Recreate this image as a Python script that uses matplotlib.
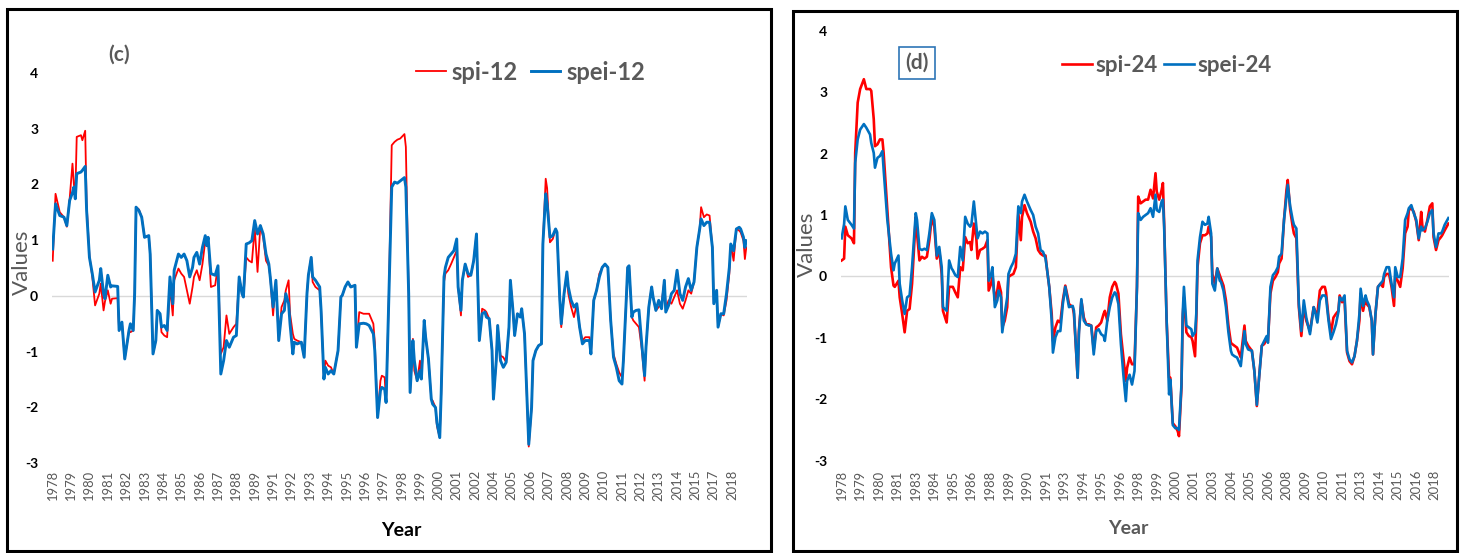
import matplotlib
matplotlib.use("Agg")
from matplotlib import pyplot as plt
from matplotlib.lines import Line2D
from matplotlib.patches import Rectangle

plt.rcParams["font.family"] = ["Lato", "DejaVu Sans"]

W, H = 1462, 553
RED = "#ff0000"
BLUE = "#0070c0"
GREY = "#595959"

# ---- panel (c): 12-month indices, monthly index since Jan 1978 ----
c_month = [
    0, 2, 5, 8, 10, 12, 14, 15, 16, 17,
    20, 21, 23, 24, 26, 28, 30, 33, 34, 36,
    37, 39, 41, 42, 46, 47, 49, 51, 54, 55,
    57, 58, 59, 61, 63, 65, 68, 69, 71, 73,
    74, 76, 77, 79, 81, 83, 85, 86, 89, 91,
    93, 95, 97, 99, 100, 102, 104, 106, 108, 109,
    110, 112, 115, 117, 119, 121, 123, 125, 128, 130,
    132, 134, 135, 137, 139, 141, 143, 145, 147, 149,
    151, 153, 154, 156, 158, 160, 162, 164, 165, 167,
    168, 170, 171, 173, 176, 178, 180, 181, 183, 184,
    186, 189, 190, 192, 193, 195, 197, 199, 202, 204,
    205, 207, 209, 211, 214, 215, 217, 220, 222, 224,
    227, 228, 230, 232, 233, 235, 236, 238, 240, 242,
    244, 246, 249, 250, 252, 253, 255, 256, 258, 260,
    261, 263, 264, 266, 268, 269, 271, 272, 274, 275,
    277, 278, 280, 282, 284, 286, 287, 289, 290, 292,
    294, 296, 298, 300, 301, 302, 304, 306, 307, 309,
    311, 312, 314, 315, 317, 319, 321, 323, 324, 326,
    327, 329, 331, 332, 334, 336, 337, 339, 340, 342,
    344, 346, 347, 349, 350, 352, 354, 356, 357, 359,
    360, 362, 364, 365, 367, 369, 371, 373, 375, 377,
    380, 381, 383, 385, 387, 389, 391, 393, 395, 397,
    399, 401, 403, 404, 406, 407, 408, 410, 411, 413,
    415, 417, 419, 420, 422, 424, 425, 427, 429, 431,
    433, 434, 436, 438, 440, 442, 444, 446, 448, 450,
    452, 454, 456, 458, 459, 461, 463, 465, 467, 468,
    470, 471, 473, 475, 477, 479, 480, 482, 484, 486,
    487, 489, 490, 491,
]
c_spei = [
    0.84, 1.65, 1.44, 1.41, 1.26, 1.71, 1.85, 1.95, 1.74, 2.19,
    2.22, 2.25, 2.32, 1.53, 0.69, 0.40, 0.07, 0.28, 0.49, 0.04,
    -0.05, 0.37, 0.16, 0.18, 0.17, -0.62, -0.47, -1.13, -0.62, -0.50,
    -0.62, 0.04, 1.59, 1.53, 1.41, 1.05, 1.08, 0.75, -1.04, -0.80,
    -0.26, -0.32, -0.56, -0.53, -0.62, 0.34, -0.14, 0.46, 0.75, 0.69,
    0.75, 0.63, 0.34, 0.51, 0.69, 0.78, 0.57, 0.87, 1.08, 0.90,
    1.05, 0.40, 0.37, 0.54, -1.40, -1.16, -0.80, -0.92, -0.74, -0.71,
    0.34, 0.04, -0.02, 0.93, 0.95, 0.99, 1.35, 1.11, 1.26, 1.11,
    0.75, 0.57, 0.34, -0.20, 0.28, -0.80, -0.32, -0.26, 0.04, -0.14,
    -0.50, -1.04, -0.83, -0.86, -0.83, -1.10, 0.04, 0.37, 0.69, 0.34,
    0.28, 0.16, -0.26, -1.49, -1.28, -1.40, -1.34, -1.40, -0.98, -0.02,
    0.01, 0.16, 0.25, 0.16, 0.19, -0.92, -0.50, -0.49, -0.50, -0.53,
    -0.68, -0.98, -2.18, -1.70, -1.64, -1.67, -1.91, 0.04, 1.95, 2.04,
    2.02, 2.06, 2.12, 1.95, 0.04, -1.73, -0.80, -1.16, -1.52, -1.34,
    -1.49, -0.44, -0.74, -1.13, -1.85, -1.94, -2.00, -2.27, -2.54, -1.76,
    0.34, 0.51, 0.69, 0.75, 0.81, 1.02, 0.16, -0.26, 0.28, 0.57,
    0.40, 0.37, 0.63, 1.11, 0.16, -0.80, -0.32, -0.29, -0.38, -0.41,
    -0.98, -1.85, -1.16, -0.53, -1.16, -1.28, -1.19, -0.56, 0.28, -0.32,
    -0.71, -0.32, -0.38, -0.23, -0.68, -2.00, -2.66, -2.00, -1.16, -0.98,
    -0.89, -0.86, 0.93, 1.83, 1.65, 1.05, 1.08, 1.20, 1.14, -0.08,
    -0.50, 0.04, 0.43, 0.16, -0.08, -0.20, -0.14, -0.56, -0.86, -0.80,
    -0.80, -1.04, -0.08, 0.10, 0.34, 0.51, 0.57, 0.51, -0.44, -1.10,
    -1.28, -1.52, -1.58, -1.16, -0.08, 0.51, 0.54, -0.38, -0.29, -0.26,
    -0.25, -0.86, -1.43, -0.92, -0.20, 0.16, -0.02, -0.26, -0.08, -0.23,
    0.28, -0.29, -0.17, 0.04, 0.10, 0.46, 0.04, -0.08, 0.16, 0.31,
    0.10, 0.25, 0.87, 1.20, 1.38, 1.26, 1.32, 1.32, 0.87, -0.14,
    0.10, -0.56, -0.32, -0.32, 0.04, 0.51, 0.93, 0.81, 1.20, 1.23,
    1.20, 1.05, 0.87, 0.99,
]
c_spi = [
    0.63, 1.83, 1.50, 1.41, 1.24, 1.74, 2.37, 2.00, 1.80, 2.85,
    2.88, 2.79, 2.96, 1.65, 0.72, 0.35, -0.17, 0.04, 0.22, -0.26,
    -0.10, 0.10, -0.14, -0.05, -0.04, -0.62, -0.47, -1.13, -0.62, -0.65,
    -0.62, 0.04, 1.59, 1.55, 1.41, 1.05, 1.08, 0.75, -1.04, -0.80,
    -0.26, -0.32, -0.65, -0.71, -0.74, 0.16, -0.35, 0.28, 0.49, 0.40,
    0.34, 0.10, -0.14, 0.16, 0.34, 0.46, 0.28, 0.57, 0.99, 0.90,
    1.05, 0.16, 0.19, 0.54, -1.04, -0.92, -0.35, -0.68, -0.56, -0.50,
    0.34, 0.04, -0.02, 0.69, 0.63, 0.60, 1.23, 0.43, 1.26, 1.05,
    0.63, 0.54, 0.34, -0.35, 0.28, -0.80, -0.20, -0.08, 0.10, 0.28,
    -0.32, -0.68, -0.77, -0.80, -0.83, -1.10, 0.04, 0.37, 0.69, 0.25,
    0.16, 0.10, -0.26, -1.49, -1.16, -1.25, -1.28, -1.40, -0.98, -0.02,
    0.01, 0.16, 0.25, 0.16, 0.19, -0.92, -0.29, -0.32, -0.32, -0.32,
    -0.50, -0.83, -2.18, -1.52, -1.43, -1.46, -1.91, 0.04, 2.70, 2.76,
    2.80, 2.82, 2.90, 2.67, 0.04, -1.73, -0.77, -1.34, -1.52, -1.16,
    -1.49, -0.44, -0.74, -1.13, -1.85, -1.88, -2.00, -2.33, -2.54, -1.76,
    0.25, 0.40, 0.46, 0.57, 0.69, 0.81, 0.16, -0.35, 0.28, 0.57,
    0.34, 0.37, 0.63, 1.11, 0.16, -0.80, -0.23, -0.26, -0.29, -0.41,
    -0.98, -1.85, -1.16, -0.53, -1.07, -1.10, -1.19, -0.56, 0.28, -0.32,
    -0.71, -0.32, -0.38, -0.23, -0.68, -2.00, -2.70, -2.00, -1.16, -0.98,
    -0.89, -0.86, 0.93, 2.10, 1.93, 0.96, 1.02, 1.20, 1.14, -0.08,
    -0.56, 0.04, 0.34, 0.04, -0.20, -0.38, -0.14, -0.56, -0.80, -0.74,
    -0.74, -1.04, -0.08, 0.10, 0.40, 0.51, 0.57, 0.51, -0.44, -1.04,
    -1.22, -1.37, -1.46, -1.16, -0.08, 0.51, 0.54, -0.38, -0.44, -0.50,
    -0.56, -0.95, -1.52, -0.92, -0.20, 0.16, -0.02, -0.26, -0.20, -0.14,
    0.28, -0.23, -0.08, -0.14, -0.02, 0.10, -0.14, -0.23, -0.08, 0.10,
    0.04, 0.25, 0.87, 1.20, 1.59, 1.41, 1.46, 1.44, 0.87, -0.14,
    0.10, -0.56, -0.32, -0.35, -0.08, 0.40, 0.93, 0.63, 1.20, 1.17,
    1.14, 0.99, 0.66, 0.87,
]
c_years = [1978, 1979, 1980, 1981, 1982, 1983, 1984, 1985, 1986, 1987,
           1988, 1989, 1991, 1992, 1993, 1994, 1995, 1996, 1997, 1998,
           1999, 2000, 2001, 2002, 2004, 2005, 2006, 2007, 2008, 2009,
           2010, 2011, 2012, 2013, 2014, 2015, 2017, 2018]

# ---- panel (d): 24-month indices ----
d_month = [
    0, 2, 3, 5, 8, 10, 11, 13, 15, 18,
    20, 23, 24, 26, 27, 29, 31, 33, 34, 37,
    40, 42, 43, 46, 47, 49, 51, 53, 55, 57,
    60, 61, 63, 65, 67, 69, 71, 73, 75, 77,
    79, 81, 82, 85, 87, 89, 90, 92, 94, 96,
    98, 100, 102, 104, 105, 107, 109, 110, 112, 114,
    116, 118, 119, 121, 122, 124, 126, 127, 129, 130,
    132, 134, 135, 137, 139, 141, 143, 145, 146, 148,
    150, 153, 155, 157, 159, 161, 163, 165, 166, 168,
    170, 171, 173, 175, 177, 179, 181, 183, 184, 187,
    188, 191, 192, 194, 196, 198, 200, 202, 204, 206,
    208, 210, 212, 213, 215, 217, 219, 221, 222, 224,
    226, 228, 230, 231, 233, 235, 237, 239, 240, 242,
    244, 246, 248, 250, 252, 254, 255, 257, 259, 260,
    261, 263, 265, 266, 268, 270, 272, 273, 275, 276,
    277, 279, 281, 283, 284, 286, 287, 288, 290, 292,
    294, 296, 297, 299, 300, 302, 304, 306, 307, 309,
    311, 313, 315, 316, 318, 320, 323, 326, 327, 329,
    332, 334, 336, 338, 340, 342, 344, 345, 347, 349,
    351, 353, 354, 356, 358, 360, 361, 363, 365, 366,
    368, 370, 372, 374, 376, 379, 382, 383, 385, 387,
    389, 391, 392, 394, 396, 398, 400, 402, 403, 405,
    407, 409, 411, 413, 415, 417, 419, 420, 422, 424,
    425, 427, 429, 430, 432, 434, 436, 438, 439, 441,
    443, 445, 447, 448, 450, 452, 454, 456, 458, 459,
    461, 463, 465, 467, 469, 470, 472, 474, 476, 478,
    479, 481, 483, 485, 486, 488, 491,
]
d_spei = [
    0.62, 0.85, 1.14, 0.92, 0.84, 0.78, 1.85, 2.23, 2.39, 2.48,
    2.42, 2.31, 2.17, 2.01, 1.77, 1.93, 1.96, 2.04, 1.74, 0.92,
    0.37, 0.10, 0.21, 0.34, -0.12, -0.39, -0.61, -0.34, -0.31, 0.15,
    1.03, 0.92, 0.45, 0.43, 0.45, 0.43, 0.70, 1.03, 0.92, 0.34,
    0.48, 0.15, -0.50, -0.56, 0.26, 0.13, 0.10, 0.02, -0.01, 0.48,
    0.26, 0.97, 0.86, 0.81, 0.84, 1.22, 0.81, 0.62, 0.73, 0.70,
    0.73, 0.70, -0.07, 0.04, 0.15, -0.50, -0.39, -0.23, -0.34, -0.91,
    -0.61, -0.34, 0.04, 0.15, 0.23, 0.37, 1.14, 1.03, 1.22, 1.33,
    1.22, 1.08, 1.00, 0.81, 0.70, 0.43, 0.40, 0.29, 0.15, -0.17,
    -0.72, -1.24, -0.99, -0.89, -0.89, -0.45, -0.17, -0.39, -0.50, -0.48,
    -0.56, -1.65, -0.94, -0.37, -0.72, -0.78, -0.80, -0.80, -1.27, -0.89,
    -0.86, -0.94, -0.97, -1.05, -0.72, -0.50, -0.34, -0.26, -0.28, -0.45,
    -1.10, -1.60, -2.03, -1.70, -1.60, -1.76, -1.54, -0.17, 1.03, 0.92,
    0.97, 1.00, 1.03, 1.11, 0.97, 1.33, 1.08, 1.05, 1.22, 1.25,
    0.81, -0.72, -1.92, -1.68, -2.42, -2.47, -2.47, -2.50, -1.76, -0.61,
    -0.17, -0.80, -0.83, -0.86, -0.97, -0.91, -0.61, 0.26, 0.64, 0.89,
    0.84, 0.86, 0.97, 0.70, -0.12, -0.23, 0.13, -0.07, -0.09, -0.23,
    -0.50, -0.91, -1.21, -1.27, -1.30, -1.32, -1.46, -0.89, -1.10, -1.19,
    -1.21, -1.54, -2.09, -1.60, -1.13, -1.05, -0.97, -1.08, -0.17, 0.02,
    0.07, 0.15, 0.32, 0.37, 0.92, 1.30, 1.49, 1.14, 0.92, 0.84,
    0.78, -0.45, -0.89, -0.39, -0.67, -0.94, -0.50, -0.56, -0.75, -0.39,
    -0.31, -0.31, -0.34, -0.72, -1.02, -0.91, -0.78, -0.58, -0.34, -0.39,
    -0.31, -1.21, -1.35, -1.40, -1.30, -1.05, -0.61, -0.20, -0.48, -0.31,
    -0.39, -0.48, -0.72, -1.27, -0.61, -0.17, -0.12, -0.07, 0.04, 0.15,
    0.15, -0.12, -0.34, 0.15, -0.01, -0.01, 0.29, 0.92, 1.03, 1.11,
    1.16, 1.03, 0.92, 0.62, 0.81, 0.75, 0.78, 0.89, 1.03, 1.08,
    0.70, 0.48, 0.70, 0.70, 0.73, 0.84, 0.95,
]
d_spi = [
    0.26, 0.29, 0.81, 0.67, 0.62, 0.54, 2.01, 2.83, 3.05, 3.21,
    3.05, 3.05, 3.02, 2.56, 2.12, 2.15, 2.23, 2.23, 2.01, 1.08,
    0.15, -0.15, -0.17, -0.07, -0.34, -0.61, -0.91, -0.56, -0.53, -0.12,
    0.97, 0.70, 0.26, 0.32, 0.29, 0.32, 0.59, 0.97, 0.81, 0.29,
    0.43, 0.04, -0.56, -0.75, -0.17, -0.17, -0.17, -0.26, -0.34, 0.15,
    0.10, 0.64, 0.54, 0.56, 0.43, 0.86, 0.62, 0.29, 0.43, 0.45,
    0.48, 0.59, -0.23, -0.12, 0.04, -0.39, -0.23, -0.09, -0.26, -0.83,
    -0.72, -0.50, -0.01, 0.02, 0.04, 0.15, 1.03, 0.59, 0.97, 1.16,
    1.03, 0.89, 0.73, 0.62, 0.43, 0.37, 0.34, 0.34, 0.15, -0.17,
    -0.61, -1.05, -0.83, -0.72, -0.75, -0.39, -0.15, -0.34, -0.45, -0.50,
    -0.61, -1.65, -0.89, -0.39, -0.67, -0.78, -0.78, -0.80, -1.19, -0.83,
    -0.80, -0.75, -0.61, -0.56, -0.72, -0.34, -0.17, -0.09, -0.12, -0.28,
    -0.94, -1.32, -1.70, -1.49, -1.32, -1.43, -1.43, -0.17, 1.30, 1.19,
    1.22, 1.25, 1.25, 1.41, 1.27, 1.68, 1.38, 1.25, 1.41, 1.52,
    0.86, -0.72, -1.65, -1.65, -2.39, -2.44, -2.52, -2.60, -1.81, -0.67,
    -0.34, -0.91, -0.97, -0.99, -1.05, -1.30, -0.72, 0.15, 0.54, 0.67,
    0.67, 0.70, 0.81, 0.64, 0.04, -0.12, 0.13, 0.02, -0.04, -0.15,
    -0.39, -0.80, -1.08, -1.10, -1.13, -1.16, -1.32, -0.80, -1.05, -1.13,
    -1.21, -1.54, -2.11, -1.60, -1.13, -1.10, -1.02, -1.05, -0.28, -0.07,
    -0.01, 0.07, 0.21, 0.29, 0.92, 1.41, 1.57, 1.08, 0.81, 0.70,
    0.62, -0.50, -0.97, -0.50, -0.72, -0.89, -0.50, -0.56, -0.61, -0.23,
    -0.17, -0.17, -0.26, -0.67, -0.91, -0.67, -0.61, -0.56, -0.31, -0.42,
    -0.39, -1.24, -1.38, -1.43, -1.30, -1.05, -0.72, -0.28, -0.56, -0.34,
    -0.45, -0.50, -0.72, -1.27, -0.61, -0.17, -0.12, -0.17, -0.01, 0.04,
    0.04, -0.17, -0.48, -0.01, -0.07, -0.17, 0.13, 0.70, 0.81, 1.08,
    1.11, 1.05, 0.89, 0.59, 1.05, 0.81, 0.73, 0.92, 1.14, 1.19,
    0.64, 0.43, 0.59, 0.64, 0.67, 0.75, 0.86,
]
d_years = [1978, 1979, 1980, 1981, 1983, 1984, 1985, 1986, 1988, 1989,
           1990, 1991, 1993, 1994, 1995, 1996, 1998, 1999, 2000, 2001,
           2003, 2004, 2005, 2006, 2008, 2009, 2010, 2011, 2013, 2014,
           2015, 2016, 2018]

y_ticks = [-3, -2, -1, 0, 1, 2, 3, 4]


def fx(x):
    return x / W


def fy(y):
    return 1 - y / H


def frame(fig, x0, y0, x1, y1):
    fig.patches.append(Rectangle((fx(x0), fy(y1)), fx(x1 - x0), (y1 - y0) / H,
                                 transform=fig.transFigure, fill=False,
                                 ec="black", lw=2.2, zorder=0))


def panel(fig, box, months, spi, spei, years, step, red_lw, blue_lw, xpad):
    x0, y0, x1, y1 = box
    ax = fig.add_axes([fx(x0), fy(y1), fx(x1 - x0), (y1 - y0) / H])
    ax.axhline(0, color="#d9d9d9", lw=1.0, zorder=1)
    ax.plot(months, spi, color=RED, lw=red_lw, zorder=2)
    ax.plot(months, spei, color=BLUE, lw=blue_lw, zorder=3)
    ax.set_xlim(-0.5, 491.5)
    ax.set_ylim(-3, 4)
    for s in ax.spines.values():
        s.set_visible(False)
    ax.set_yticks(y_ticks)
    ax.set_yticklabels([str(v) for v in y_ticks], fontweight="bold",
                       fontsize=10, color="black")
    ax.set_xticks([i * step for i in range(len(years))])
    ax.set_xticklabels([str(y) for y in years], rotation=90,
                       fontsize=9.4, color=GREY)
    ax.tick_params(axis="y", length=0, pad=10)
    ax.tick_params(axis="x", length=0, pad=xpad)
    ax.patch.set_alpha(0)
    return ax


fig = plt.figure(figsize=(W / 100, H / 100), dpi=100)

frame(fig, 7, 9, 771, 551)
frame(fig, 793, 11, 1457, 551)

ax_c = panel(fig, (52, 72.7, 747, 463.3), c_month, c_spi, c_spei,
             c_years, 13, 1.3, 2.1, 5)
ax_d = panel(fig, (841, 30.7, 1449, 460.7), d_month, d_spi, d_spei,
             d_years, 15, 1.9, 1.9, 6.5)

# axis titles
fig.text(fx(22), fy(262), "Values", rotation=90, ha="center", va="center",
         fontsize=16, color=GREY)
fig.text(fx(807), fy(244), "Values", rotation=90, ha="center", va="center",
         fontsize=16, color=GREY)
fig.text(fx(401), fy(530), "Year", ha="center", va="center",
         fontsize=14, fontweight="bold", color="black")
fig.text(fx(1128), fy(528), "Year", ha="center", va="center",
         fontsize=14, fontweight="bold", color=GREY)

# panel tags
fig.text(fx(119), fy(55), "(c)", ha="center", va="center",
         fontsize=15, fontweight="bold", color=GREY)
fig.text(fx(917), fy(63), "(d)", ha="center", va="center",
         fontsize=15, fontweight="bold", color=GREY,
         bbox=dict(boxstyle="square,pad=0.28", fc="white", ec="#2e75b6", lw=1.2))

# legends
h_c = [Line2D([], [], color=RED, lw=1.3), Line2D([], [], color=BLUE, lw=2.1)]
ax_c.legend(h_c, ["spi-12", "spei-12"], loc="center left",
            bbox_to_anchor=(fx(416), fy(72)), bbox_transform=fig.transFigure,
            ncol=2, frameon=False, borderpad=0, borderaxespad=0,
            handlelength=1.25, handletextpad=0.25, columnspacing=0.55,
            prop={"size": 17, "weight": "bold"}, labelcolor=GREY)

h_d = [Line2D([], [], color=RED, lw=1.9), Line2D([], [], color=BLUE, lw=1.9)]
ax_d.legend(h_d, ["spi-24", "spei-24"], loc="center left",
            bbox_to_anchor=(fx(1062), fy(65)), bbox_transform=fig.transFigure,
            ncol=2, frameon=False, borderpad=0, borderaxespad=0,
            handlelength=1.35, handletextpad=0.15, columnspacing=0.3,
            prop={"size": 16, "weight": "bold"}, labelcolor=GREY)

fig.savefig("out.png", dpi=100)
